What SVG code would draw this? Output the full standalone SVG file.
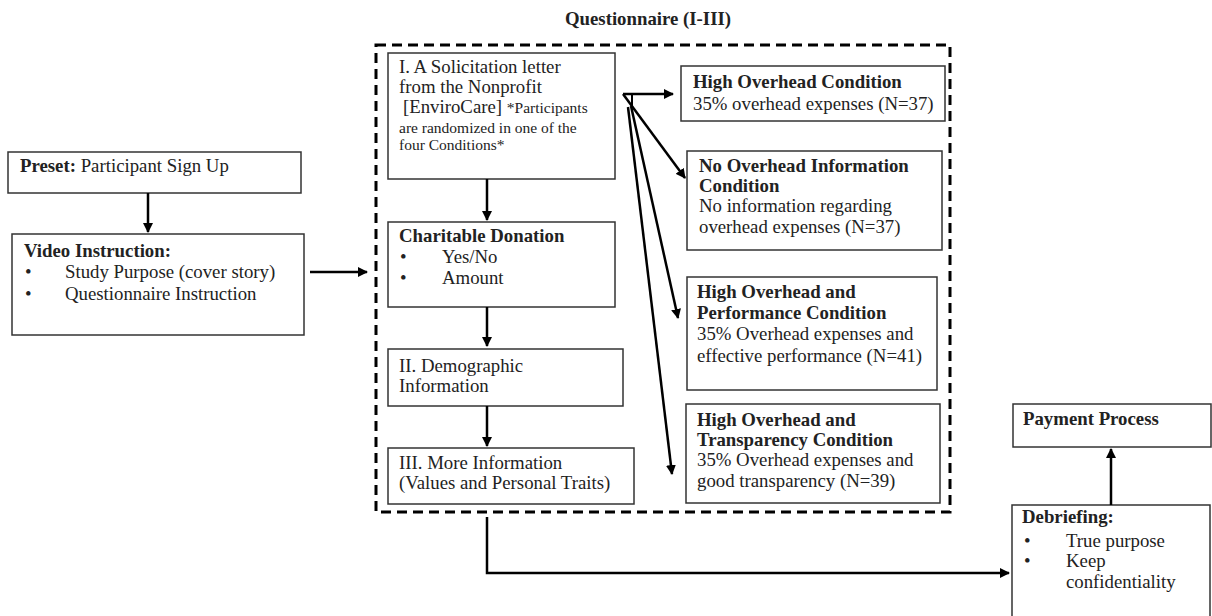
<svg xmlns="http://www.w3.org/2000/svg" width="1212" height="616" viewBox="0 0 1212 616" font-family="'Liberation Serif', 'Times New Roman', Times, 'DejaVu Serif', serif">
<style>
text{font-family:'Liberation Serif','Times New Roman',Times,'DejaVu Serif',serif;font-size:18.8px;fill:#222}
.b{font-weight:bold}
.s{font-size:15.5px}
.t{font-size:18.8px;font-weight:bold}
rect.n{fill:#fff;stroke:#333;stroke-width:1.5}
.c line,.c path,.c polyline{stroke:#000;stroke-width:2.5;fill:none}
</style>
<defs>
<marker id="ah" viewBox="0 0 10 10" refX="9" refY="5" markerWidth="4" markerHeight="4" orient="auto" markerUnits="strokeWidth">
<path d="M0,0 L10,5 L0,10 z" fill="#000"/>
</marker>
</defs>
<g id="title"><text class="t" x="648" y="25" text-anchor="middle">Questionnaire (I-III)</text></g>
<g id="questionnaire"><rect x="376" y="45" width="574" height="467" fill="none" stroke="#000" stroke-width="3" stroke-dasharray="10,6"/></g>
<g id="preset"><rect class="n" x="8" y="152" width="293" height="41"/>
<text x="20" y="172"><tspan class="b">Preset:</tspan> Participant Sign Up</text></g>
<g id="video"><rect class="n" x="12" y="234" width="292" height="101"/>
<text class="b" x="24" y="257">Video Instruction:</text>
<text x="25" y="278">•</text><text x="65" y="278">Study Purpose (cover story)</text>
<text x="25" y="300">•</text><text x="65" y="300">Questionnaire Instruction</text></g>
<g id="solicitation"><rect class="n" x="388" y="53" width="227" height="126"/>
<text x="399" y="73">I. A Solicitation letter</text>
<text x="399" y="93">from the Nonprofit</text>
<text x="403" y="113">[EnviroCare] <tspan class="s">*Participants</tspan></text>
<text class="s" x="399" y="133">are randomized in one of the</text>
<text class="s" x="399" y="150">four Conditions*</text></g>
<g id="donation"><rect class="n" x="388" y="222" width="227" height="85"/>
<text class="b" x="399" y="242">Charitable Donation</text>
<text x="400" y="263">•</text><text x="442" y="263">Yes/No</text>
<text x="400" y="284">•</text><text x="442" y="284">Amount</text></g>
<g id="demographic"><rect class="n" x="388" y="349" width="235" height="57"/>
<text x="399" y="372">II. Demographic</text>
<text x="399" y="392">Information</text></g>
<g id="more"><rect class="n" x="388" y="448" width="246" height="56"/>
<text x="399" y="469">III. More Information</text>
<text x="399" y="489">(Values and Personal Traits)</text></g>
<g id="cond1"><rect class="n" x="681" y="66" width="264" height="55"/>
<text class="b" x="693" y="88">High Overhead Condition</text>
<text x="693" y="110">35% overhead expenses (N=37)</text></g>
<g id="cond2"><rect class="n" x="687" y="151" width="255" height="99"/>
<text class="b" x="699" y="172">No Overhead Information</text>
<text class="b" x="699" y="192">Condition</text>
<text x="699" y="212">No information regarding</text>
<text x="699" y="233">overhead expenses (N=37)</text></g>
<g id="cond3"><rect class="n" x="687" y="277" width="250" height="113"/>
<text class="b" x="697" y="298">High Overhead and</text>
<text class="b" x="697" y="319">Performance Condition</text>
<text x="697" y="340">35% Overhead expenses and</text>
<text x="697" y="362">effective performance (N=41)</text></g>
<g id="cond4"><rect class="n" x="686" y="404" width="254" height="99"/>
<text class="b" x="697" y="426">High Overhead and</text>
<text class="b" x="697" y="446">Transparency Condition</text>
<text x="697" y="466">35% Overhead expenses and</text>
<text x="697" y="487">good transparency (N=39)</text></g>
<g id="payment"><rect class="n" x="1013" y="404" width="198" height="43"/>
<text class="b" x="1023" y="425">Payment Process</text></g>
<g id="debriefing"><rect class="n" x="1012" y="505" width="198" height="120"/>
<text class="b" x="1022" y="523">Debriefing:</text>
<text x="1024" y="547">•</text><text x="1066" y="547">True purpose</text>
<text x="1024" y="567">•</text><text x="1066" y="567">Keep</text>
<text x="1066" y="588">confidentiality</text></g>
<g class="c" id="connectors">
<line x1="148" y1="193" x2="148" y2="232" marker-end="url(#ah)"/>
<line x1="310" y1="272" x2="367" y2="272" marker-end="url(#ah)"/>
<line x1="487" y1="179" x2="487" y2="220" marker-end="url(#ah)"/>
<line x1="487" y1="307" x2="487" y2="346" marker-end="url(#ah)"/>
<line x1="487" y1="406" x2="487" y2="446" marker-end="url(#ah)"/>
<polyline points="487,517 487,573 1009,573" marker-end="url(#ah)"/>
<line x1="1111" y1="505" x2="1111" y2="449" marker-end="url(#ah)"/>
<line x1="623" y1="94" x2="673" y2="94" marker-end="url(#ah)"/>
<line x1="623" y1="94" x2="685" y2="178" marker-end="url(#ah)"/>
<polyline points="623,94 632,94 632,108" style="stroke-width:2"/>
<line x1="631" y1="106" x2="678" y2="318" marker-end="url(#ah)"/>
<line x1="628" y1="107" x2="672" y2="474" marker-end="url(#ah)"/>
</g>
</svg>
